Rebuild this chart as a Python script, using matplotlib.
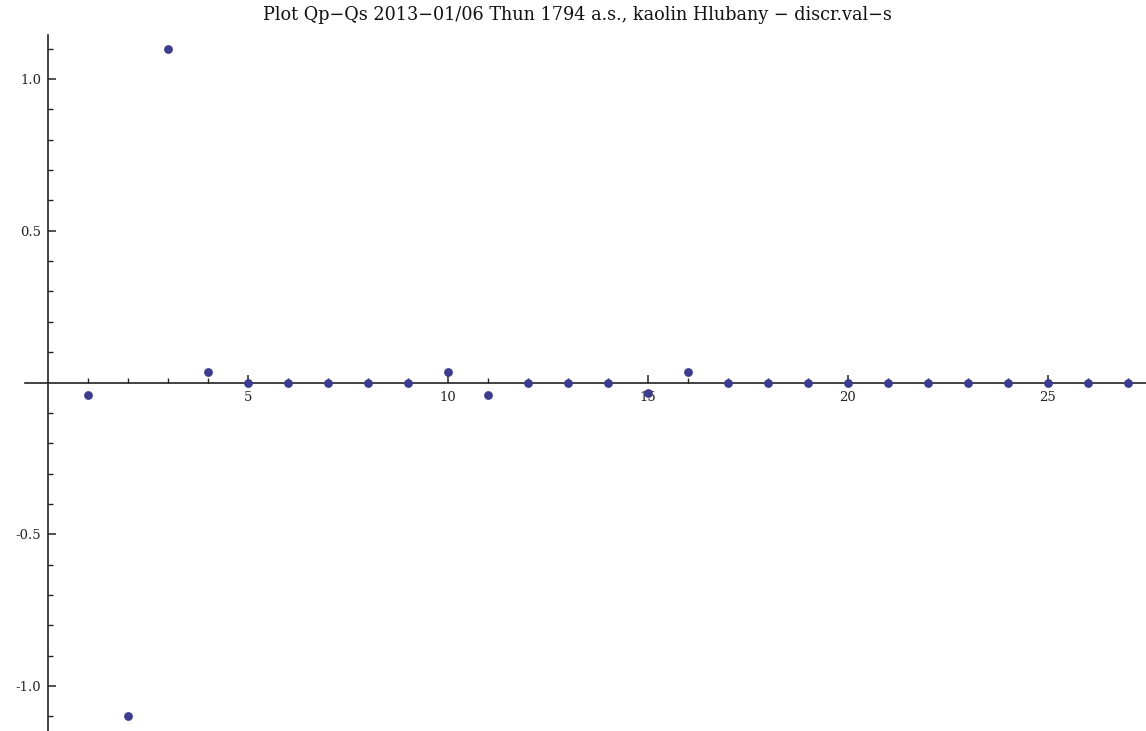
import matplotlib
matplotlib.use("Agg")
import matplotlib.pyplot as plt
from matplotlib.ticker import FixedLocator

x_vals = list(range(1, 28))
y_vals = [-0.04, -1.10, 1.10, 0.033, 0, 0, 0, 0, 0, 0.033, -0.04, 0, 0, 0,
          -0.035, 0.033, 0, 0, 0, 0, 0, 0, 0, 0, 0, 0, 0]
x_major = [5, 10, 15, 20, 25]
y_major = [-1.0, -0.5, 0.5, 1.0]
y_major_labels = ["-1.0", "-0.5", "0.5", "1.0"]
title = "Plot Qp\u2212Qs 2013\u221201/06 Thun 1794 a.s., kaolin Hlubany \u2212 discr.val\u2212s"

W, H = 1146, 731
fig = plt.figure(figsize=(W / 100, H / 100), dpi=100)
ax = fig.add_axes([0, 0, 1, 1])
ax.set_facecolor("white")

ax.scatter(x_vals, y_vals, s=40, color="#3d3d8f", zorder=3, linewidths=0)

ax.set_xlim(-1.2, 27.45)
ax.set_ylim(-1.148, 1.260)

for s in ["top", "right"]:
    ax.spines[s].set_visible(False)
ax.spines["left"].set_position(("data", 0))
ax.spines["bottom"].set_position(("data", 0))
ax.spines["left"].set_bounds(-1.15, 1.145)
ax.spines["bottom"].set_bounds(-0.575, 27.45)
for s in ["left", "bottom"]:
    ax.spines[s].set_linewidth(1.2)
    ax.spines[s].set_color("#222222")

ax.xaxis.set_major_locator(FixedLocator(x_major))
ax.xaxis.set_minor_locator(FixedLocator([i for i in range(1, 28) if i % 5 != 0]))
ax.yaxis.set_major_locator(FixedLocator(y_major))
ax.set_yticklabels(y_major_labels)
ax.yaxis.set_minor_locator(FixedLocator([i / 10 for i in range(-11, 12) if i % 5 != 0 and i != 0]))

ax.tick_params(axis="both", which="major", direction="in", length=6, width=1.1,
               color="#222222", labelsize=9.5)
ax.tick_params(axis="x", which="major", pad=6)
ax.tick_params(axis="y", which="major", pad=5)
ax.tick_params(axis="both", which="minor", direction="in", length=3.5, width=1.0,
               color="#222222")
for lab in ax.get_xticklabels() + ax.get_yticklabels():
    lab.set_fontfamily("DejaVu Serif")
    lab.set_color("#222222")

fig.text(577 / W, 1 - 20 / H, title, ha="center", va="baseline",
         fontsize=12.7, family="DejaVu Serif", color="#111111")

fig.savefig("out.png", dpi=100, facecolor="white")
